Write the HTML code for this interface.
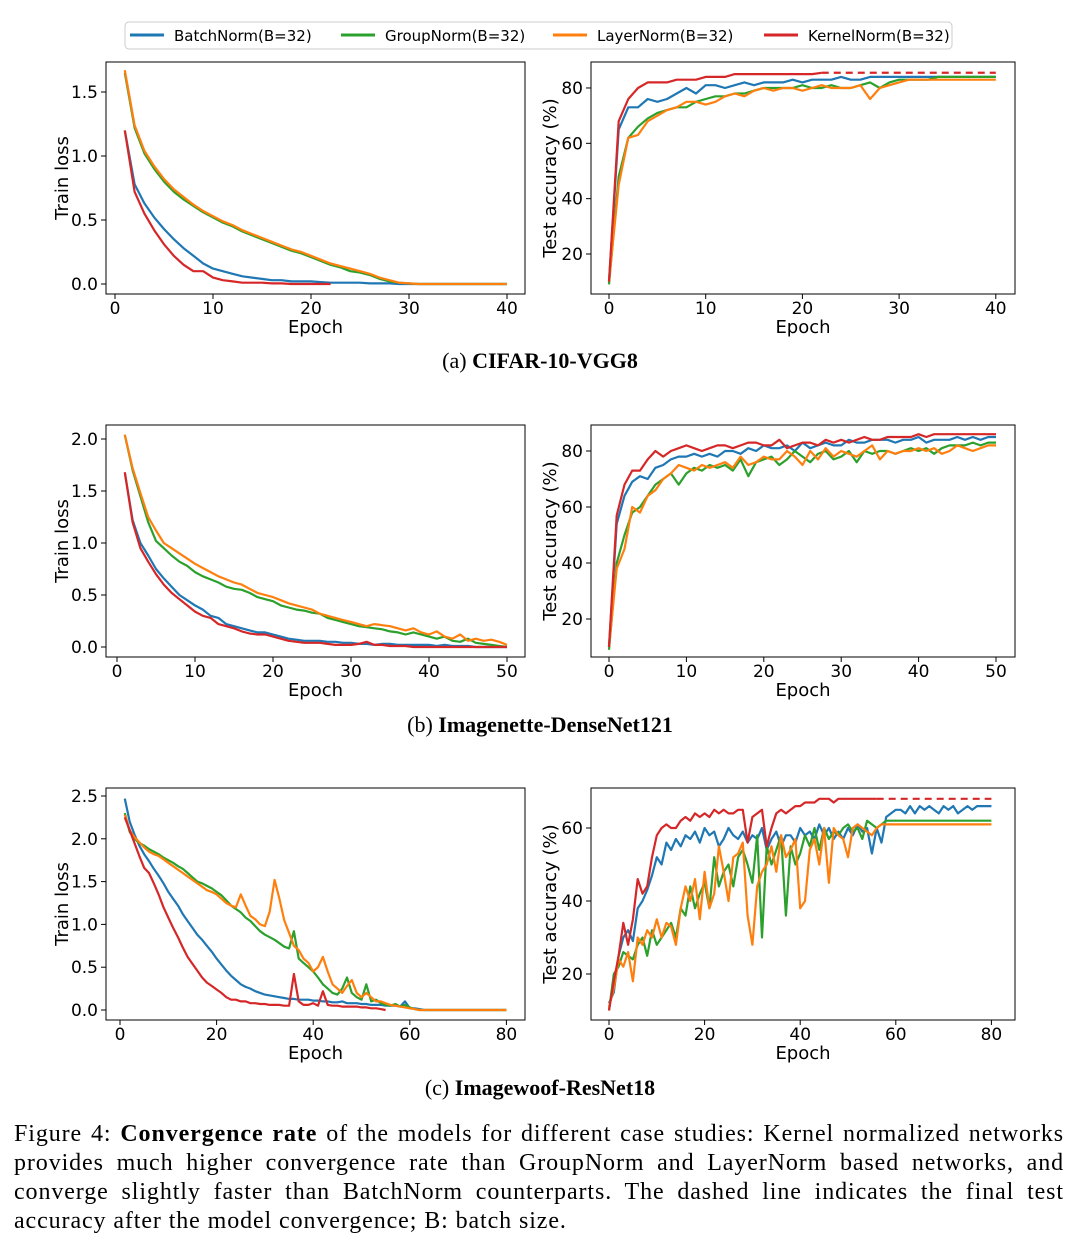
<!DOCTYPE html>
<html><head><meta charset="utf-8"><style>
body{margin:0;background:#fff;width:1080px;height:1260px;overflow:hidden;position:relative;font-family:"Liberation Sans","DejaVu Sans",sans-serif}
svg{position:absolute;left:0;top:0}
.cap{position:absolute;left:0;width:1080px;text-align:center;font-family:"Liberation Serif",serif;font-size:22px;color:#000}
.fig{position:absolute;left:14px;width:1050px;font-family:"Liberation Serif",serif;font-size:24px;letter-spacing:0.9px;line-height:29px;color:#000}
.fig div{text-align:justify;text-align-last:justify;white-space:nowrap}
.fig div.last{text-align-last:left}
</style></head><body>
<svg id="chart" width="1080" height="1260" xmlns="http://www.w3.org/2000/svg"></svg>
<div class="cap" style="top:348px">(a) <b>CIFAR-10-VGG8</b></div>
<div class="cap" style="top:712px">(b) <b>Imagenette-DenseNet121</b></div>
<div class="cap" style="top:1075px">(c) <b>Imagewoof-ResNet18</b></div>
<div class="fig" style="top:1120px">
<div>Figure 4: <b>Convergence rate</b> of the models for different case studies: Kernel normalized networks</div>
<div>provides much higher convergence rate than GroupNorm and LayerNorm based networks, and</div>
<div>converge slightly faster than BatchNorm counterparts. The dashed line indicates the final test</div>
<div class="last">accuracy after the model convergence; B: batch size.</div>
</div>
<script>
// ---- data ----
const seriesNames=["BatchNorm(B=32)","GroupNorm(B=32)","LayerNorm(B=32)","KernelNorm(B=32)"];
const aLossBatch=[1.2,0.78,0.63,0.52,0.43,0.35,0.28,0.22,0.16,0.12,0.1,0.08,0.06,0.05,0.04,0.03,0.03,0.02,0.02,0.02,0.015,0.01,0.01,0.01,0.01,0.005,0.005,0.005,0,0,0,0,0,0,0,0,0,0,0,0];
const aLossGroup=[1.65,1.22,1.02,0.9,0.8,0.72,0.66,0.61,0.56,0.52,0.48,0.45,0.41,0.38,0.35,0.32,0.29,0.26,0.24,0.21,0.18,0.15,0.13,0.1,0.09,0.07,0.04,0.02,0.01,0.005,0,0,0,0,0,0,0,0,0,0];
const aLossLayer=[1.67,1.24,1.04,0.92,0.82,0.74,0.68,0.62,0.57,0.53,0.49,0.46,0.42,0.39,0.36,0.33,0.3,0.27,0.25,0.22,0.19,0.16,0.14,0.12,0.1,0.08,0.05,0.03,0.01,0.005,0,0,0,0,0,0,0,0,0,0];
const aLossKernel=[1.2,0.72,0.55,0.42,0.31,0.22,0.15,0.1,0.1,0.05,0.03,0.02,0.01,0.01,0.01,0.005,0.005,0,0,0,0,0];
const aAccBatch=[10,65,73,73,76,75,76,78,80,78,81,81,80,81,82,81,82,82,82,83,82,83,83,83,84,83,83,84,84,84,84,84,84,84,84,84,84,84,84,84,84];
const aAccGroup=[9,48,62,66,69,71,72,73,73,75,76,77,77,78,78,79,80,80,80,80,81,80,80,81,80,80,81,82,80,82,83,83,83,83,84,84,84,84,84,84,84];
const aAccLayer=[10,45,62,63,68,70,72,73,75,75,74,75,77,78,77,79,80,79,80,80,79,80,81,80,80,80,81,76,80,81,82,83,83,83,83,83,83,83,83,83,83];
const aAccKernel=[10,68,76,80,82,82,82,83,83,83,84,84,84,85,85,85,85,85,85,85,85,85,85.5];
const aFinal=[85.5];
const bLossBatch=[1.68,1.22,1.0,0.88,0.75,0.66,0.58,0.5,0.45,0.4,0.36,0.3,0.28,0.22,0.2,0.18,0.16,0.14,0.14,0.12,0.1,0.08,0.07,0.06,0.06,0.06,0.05,0.05,0.04,0.04,0.03,0.03,0.02,0.03,0.03,0.02,0.02,0.02,0.02,0.02,0.01,0.02,0.01,0.01,0.01,0,0,0,0,0];
const bLossGroup=[2.04,1.7,1.45,1.2,1.02,0.95,0.88,0.82,0.78,0.72,0.68,0.65,0.62,0.58,0.56,0.55,0.52,0.48,0.46,0.44,0.4,0.38,0.36,0.35,0.33,0.32,0.28,0.26,0.24,0.22,0.2,0.19,0.18,0.17,0.15,0.14,0.12,0.14,0.12,0.1,0.08,0.1,0.06,0.05,0.08,0.04,0.03,0.02,0.01,0];
const bLossLayer=[2.04,1.72,1.48,1.25,1.12,1.0,0.95,0.9,0.85,0.8,0.76,0.72,0.68,0.65,0.62,0.6,0.56,0.52,0.5,0.48,0.45,0.42,0.4,0.38,0.36,0.32,0.3,0.28,0.26,0.24,0.22,0.2,0.22,0.21,0.2,0.18,0.16,0.18,0.14,0.12,0.15,0.1,0.08,0.12,0.06,0.08,0.06,0.07,0.05,0.02];
const bLossKernel=[1.68,1.2,0.95,0.82,0.7,0.6,0.52,0.46,0.4,0.34,0.3,0.28,0.22,0.2,0.18,0.15,0.13,0.12,0.12,0.1,0.08,0.06,0.05,0.04,0.04,0.04,0.03,0.02,0.02,0.02,0.03,0.05,0.02,0.02,0.01,0.01,0.01,0,0,0,0,0,0,0,0,0,0,0,0,0];
const bAccBatch=[10,54,64,69,71,70,74,75,77,78,78,79,78,79,78,80,80,79,81,80,82,81,81,82,80,83,81,82,83,82,82,84,83,83,84,84,84,83,84,84,85,83,84,84,84,85,84,85,84,85,85];
const bAccGroup=[9,40,50,58,60,64,68,70,72,68,72,74,73,75,74,75,73,77,71,76,77,78,75,77,80,78,76,79,80,77,78,80,76,80,79,80,80,79,80,81,80,81,79,81,82,82,82,83,82,83,83];
const bAccLayer=[10,38,45,60,58,64,66,70,72,75,74,73,75,74,75,76,74,78,75,76,78,77,77,80,78,75,80,77,81,78,80,79,78,80,82,77,80,79,80,80,81,80,81,79,80,82,81,80,81,82,82];
const bAccKernel=[10,57,68,73,73,77,80,78,80,81,82,81,80,81,82,82,81,82,83,83,82,82,84,81,82,83,83,82,84,83,84,83,84,85,84,84,85,85,85,85,86,85,86,86,86,86,86,86,86,86,86];
const cLossBatch=[2.47,2.2,2.05,1.92,1.82,1.74,1.65,1.57,1.48,1.38,1.3,1.22,1.12,1.04,0.96,0.88,0.82,0.75,0.68,0.6,0.53,0.46,0.4,0.35,0.3,0.27,0.25,0.22,0.2,0.18,0.17,0.16,0.15,0.14,0.13,0.13,0.12,0.12,0.12,0.11,0.11,0.1,0.1,0.09,0.09,0.1,0.08,0.08,0.08,0.07,0.07,0.06,0.06,0.06,0.05,0.05,0.05,0.04,0.1,0.02,0.02,0.01,0,0,0,0,0,0,0,0,0,0,0,0,0,0,0,0,0,0];
const cLossGroup=[2.3,2.08,2.0,1.95,1.92,1.88,1.85,1.82,1.78,1.75,1.72,1.68,1.65,1.6,1.55,1.5,1.48,1.45,1.42,1.38,1.34,1.28,1.22,1.18,1.14,1.08,1.04,0.98,0.92,0.88,0.85,0.82,0.78,0.74,0.72,0.92,0.6,0.55,0.5,0.45,0.38,0.3,0.25,0.2,0.18,0.25,0.38,0.2,0.15,0.12,0.3,0.1,0.12,0.08,0.06,0.05,0.07,0.04,0.06,0.03,0.01,0,0,0,0,0,0,0,0,0,0,0,0,0,0,0,0,0,0,0];
const cLossLayer=[2.28,2.1,2.02,1.96,1.9,1.85,1.82,1.8,1.76,1.72,1.68,1.64,1.6,1.56,1.52,1.48,1.44,1.4,1.38,1.35,1.3,1.25,1.22,1.2,1.35,1.22,1.1,1.06,1.0,0.98,1.15,1.52,1.3,1.05,0.9,0.75,0.7,0.6,0.55,0.45,0.5,0.62,0.45,0.3,0.25,0.2,0.28,0.35,0.2,0.15,0.2,0.15,0.1,0.1,0.08,0.06,0.05,0.04,0.03,0.02,0.01,0,0,0,0,0,0,0,0,0,0,0,0,0,0,0,0,0,0,0];
const cLossKernel=[2.25,2.1,1.95,1.8,1.66,1.6,1.48,1.35,1.2,1.08,0.96,0.85,0.73,0.62,0.54,0.46,0.38,0.32,0.28,0.24,0.2,0.15,0.12,0.12,0.1,0.1,0.08,0.08,0.07,0.07,0.06,0.06,0.06,0.05,0.05,0.42,0.1,0.06,0.06,0.08,0.05,0.22,0.06,0.05,0.05,0.04,0.04,0.04,0.04,0.03,0.03,0.02,0.02,0.01,0];
const cAccBatch=[12,15,25,30,32,29,38,40,43,47,52,50,56,54,57,55,58,57,59,56,60,58,59,55,57,60,58,57,59,56,58,57,60,54,57,59,55,58,58,56,60,58,59,57,61,58,60,57,59,57,60,58,61,59,60,53,60,56,63,64,65,65,64,66,64,66,65,66,65,64,66,65,66,64,65,66,65,66,66,66,66];
const cAccGroup=[10,20,22,26,25,24,28,30,25,32,28,30,32,34,30,38,36,44,38,42,45,38,52,44,48,50,44,52,54,50,45,58,30,55,50,54,58,36,55,50,53,58,55,60,54,60,57,59,58,60,61,59,60,57,62,61,60,61,62,62,62,62,62,62,62,62,62,62,62,62,62,62,62,62,62,62,62,62,62,62,62];
const cAccLayer=[11,16,24,22,26,18,30,28,32,30,35,30,34,33,28,38,44,40,46,35,48,38,42,55,48,40,52,53,56,36,28,44,48,50,55,48,58,52,54,57,38,40,54,57,50,60,45,60,58,57,52,60,61,60,59,58,60,61,61,61,61,61,61,61,61,61,61,61,61,61,61,61,61,61,61,61,61,61,61,61,61];
const cAccKernel=[10,18,25,34,28,35,46,42,44,52,58,60,61,60,60,62,63,62,64,63,64,63,65,64,65,64,64,65,65,56,63,64,65,55,60,64,65,64,65,66,66,67,67,67,68,68,68,67,68,68,68,68,68,68,68,68,68];
const cFinal=[68];
const lossTicksA=[0,0.5,1.0,1.5], lossTicksB=[0,0.5,1.0,1.5,2.0], lossTicksC=[0,0.5,1.0,1.5,2.0,2.5];
const accTicksAB=[20,40,60,80], accTicksC=[20,40,60];
const xTicksA=[0,10,20,30,40], xTicksAR=[0,10,20,30,40], xTicksB=[0,10,20,30,40,50], xTicksBR=[0,10,20,30,40,50], xTicksC=[0,20,40,60,80], xTicksCR=[0,20,40,60,80];
// ---- drawing ----
const NS="http://www.w3.org/2000/svg", svg=document.getElementById('chart');
const colors=["#1f77b4","#2ca02c","#ff7f0e","#d62728"];
function mk(tag,attrs,parent){const e=document.createElementNS(NS,tag);for(const k in attrs)e.setAttribute(k,attrs[k]);(parent||svg).appendChild(e);return e;}
function panel(p){
  const g=mk('g',{});
  
  
  const sx=v=>p.x0+(v-p.vx0)*p.kx, sy=v=>p.y0-(v-p.vy0)*p.ky;
  p.series.forEach((s,i)=>{
    const pts=s.map((v,j)=>sx(j+p.start).toFixed(1)+','+sy(v).toFixed(1)).join(' ');
    const l=mk('polyline',{points:pts,fill:'none',stroke:colors[i],'stroke-width':2.2,'stroke-linejoin':'round'},g);
    
    
  });
  if(p.final){
    const last=p.series[3].length-1+p.start;
    const d=mk('line',{x1:sx(last),x2:sx(p.xmax),y1:sy(p.final[0]),y2:sy(p.final[0]),stroke:colors[3],'stroke-width':2.2,'stroke-dasharray':'7,5'},g);
    
    
  }
  const fr=mk('rect',{x:p.bx,y:p.by,width:p.bw,height:p.bh,fill:'none',stroke:'#000','stroke-width':1},g);
  
  
  p.xt.forEach(t=>{const x=sx(t);
    mk('line',{x1:x,x2:x,y1:p.by+p.bh,y2:p.by+p.bh+5,stroke:'#000'},g);
    const tx=mk('text',{x:x,y:p.by+p.bh+20,'text-anchor':'middle','font-size':17,'font-family':'DejaVu Sans,sans-serif'},g);tx.textContent=t;
    
    });
  p.yt.forEach(t=>{const y=sy(t);
    mk('line',{x1:p.bx-5,x2:p.bx,y1:y,y2:y,stroke:'#000'},g);
    const tx=mk('text',{x:p.bx-8,y:y+6,'text-anchor':'end','font-size':17,'font-family':'DejaVu Sans,sans-serif'},g);tx.textContent=p.fmt?t.toFixed(1):t;
    
    });
  const xl=mk('text',{x:p.bx+p.bw/2,y:p.by+p.bh+39,'text-anchor':'middle','font-size':18,'font-family':'DejaVu Sans,sans-serif'},g);xl.textContent='Epoch';
  
  
  const yx=p.bx-(p.fmt?38:35), ym=p.by+p.bh/2;
  const yl=mk('text',{x:yx,y:ym,'text-anchor':'middle','font-size':18,'font-family':'DejaVu Sans,sans-serif',transform:`rotate(-90 ${yx} ${ym})`},g);yl.textContent=p.fmt?'Train loss':'Test accuracy (%)';
  
  
}
const L={bx:106,bw:419,bh:232},R={bx:591,bw:424,bh:232};
panel({...L,name:'a-train-loss',by:62,x0:115,vx0:0,kx:9.8,y0:284,vy0:0,ky:128,start:1,series:[aLossBatch,aLossGroup,aLossLayer,aLossKernel],xt:xTicksA,yt:lossTicksA,fmt:1});
panel({...R,name:'a-test-acc',by:62,x0:609,vx0:0,kx:9.67,y0:254,vy0:20,ky:2.767,start:0,series:[aAccBatch,aAccGroup,aAccLayer,aAccKernel],xt:xTicksAR,yt:accTicksAB,final:aFinal,xmax:40});
panel({...L,name:'b-train-loss',by:425,x0:117,vx0:0,kx:7.8,y0:647,vy0:0,ky:104,start:1,series:[bLossBatch,bLossGroup,bLossLayer,bLossKernel],xt:xTicksB,yt:lossTicksB,fmt:1});
panel({...R,name:'b-test-acc',by:425,x0:609,vx0:0,kx:7.74,y0:619,vy0:20,ky:2.8,start:0,series:[bAccBatch,bAccGroup,bAccLayer,bAccKernel],xt:xTicksBR,yt:accTicksAB});
panel({...L,name:'c-train-loss',by:788,x0:120,vx0:0,kx:4.83,y0:1010,vy0:0,ky:85.6,start:1,series:[cLossBatch,cLossGroup,cLossLayer,cLossKernel],xt:xTicksC,yt:lossTicksC,fmt:1});
panel({...R,name:'c-test-acc',by:788,x0:609,vx0:0,kx:4.78,y0:974,vy0:20,ky:3.65,start:0,series:[cAccBatch,cAccGroup,cAccLayer,cAccKernel],xt:xTicksCR,yt:accTicksC,final:cFinal,xmax:80});
// legend
const lg=mk('g',{});


mk('rect',{x:125,y:22,width:827,height:27,rx:4,fill:'#fff',stroke:'#ccc'},lg);
const lx=[130,341,553,764];
seriesNames.forEach((n,i)=>{
  const e=mk('g',{},lg);
  
  
  mk('line',{x1:lx[i],x2:lx[i]+34,y1:35,y2:35,stroke:colors[i],'stroke-width':3},e);
  const t=mk('text',{x:lx[i]+44,y:41,'font-size':15,'font-family':'DejaVu Sans,sans-serif'},e);t.textContent=n;
});
</script>
</body></html>
